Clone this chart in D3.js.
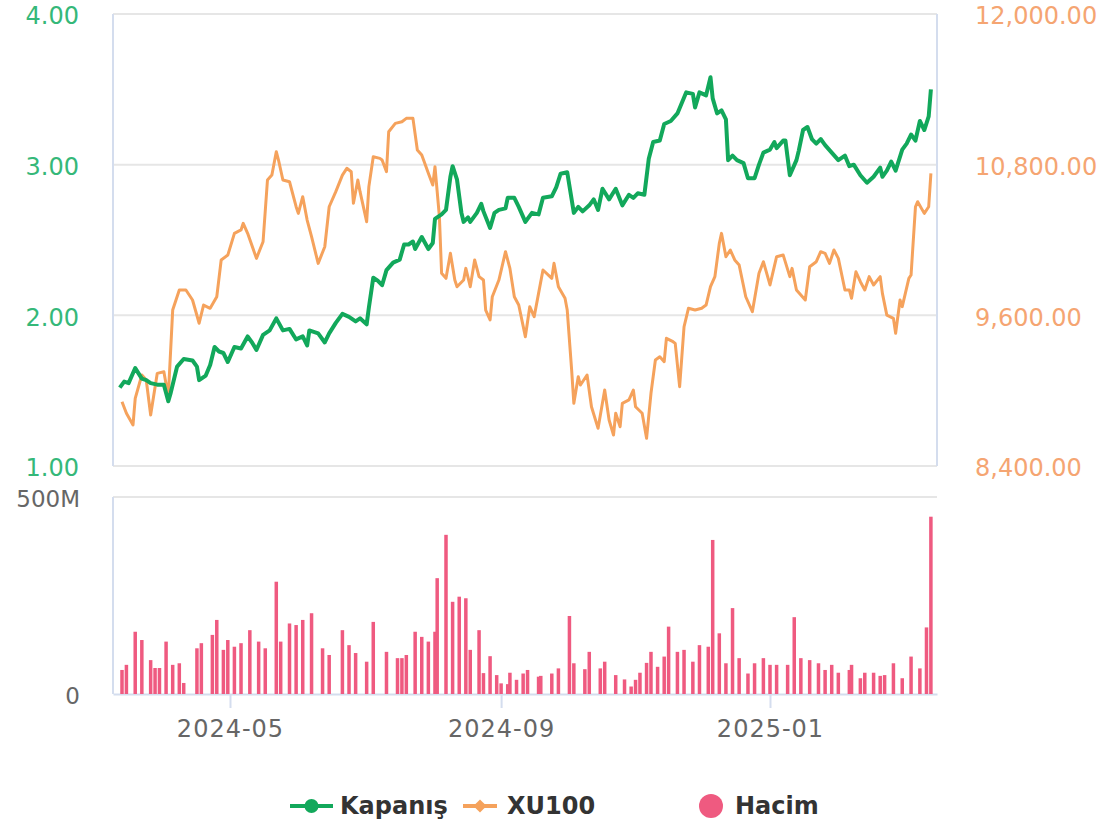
<!DOCTYPE html>
<html>
<head>
<meta charset="utf-8">
<script src="https://cdn.jsdelivr.net/npm/d3@7"></script>
<style>
  body { margin: 0; background: #fff; }
  svg { display: block; font-family: "DejaVu Sans", Verdana, sans-serif; }
</style>
</head>
<body>
<div id="chart"></div>
<script>
// Kapanış (close price)
const kapanis = [
  ["2024-03-12",1.52],["2024-03-14",1.56],["2024-03-16",1.55],["2024-03-19",1.65],["2024-03-22",1.58],
  ["2024-03-24",1.57],["2024-03-26",1.55],["2024-03-29",1.54],["2024-04-01",1.54],["2024-04-03",1.43],
  ["2024-04-04",1.48],["2024-04-07",1.66],["2024-04-10",1.71],["2024-04-14",1.70],["2024-04-16",1.66],
  ["2024-04-17",1.57],["2024-04-20",1.60],["2024-04-22",1.67],["2024-04-24",1.79],["2024-04-26",1.76],
  ["2024-04-28",1.75],["2024-04-30",1.69],["2024-05-03",1.79],["2024-05-06",1.78],["2024-05-09",1.86],
  ["2024-05-11",1.82],["2024-05-13",1.77],["2024-05-16",1.87],["2024-05-19",1.90],["2024-05-22",1.98],
  ["2024-05-25",1.90],["2024-05-28",1.91],["2024-05-31",1.84],["2024-06-03",1.86],["2024-06-05",1.80],
  ["2024-06-06",1.90],["2024-06-10",1.88],["2024-06-13",1.82],["2024-06-15",1.88],["2024-06-18",1.95],
  ["2024-06-21",2.01],["2024-06-24",1.99],["2024-06-27",1.96],["2024-06-29",1.98],["2024-07-02",1.94],
  ["2024-07-03",2.05],["2024-07-05",2.25],["2024-07-07",2.23],["2024-07-09",2.20],["2024-07-11",2.30],
  ["2024-07-14",2.35],["2024-07-17",2.37],["2024-07-19",2.47],["2024-07-21",2.47],["2024-07-23",2.49],
  ["2024-07-24",2.44],["2024-07-27",2.52],["2024-07-30",2.44],["2024-08-01",2.48],["2024-08-02",2.64],
  ["2024-08-05",2.67],["2024-08-07",2.70],["2024-08-09",2.92],["2024-08-10",2.99],["2024-08-12",2.90],
  ["2024-08-14",2.68],["2024-08-15",2.62],["2024-08-17",2.65],["2024-08-18",2.62],["2024-08-21",2.68],
  ["2024-08-23",2.74],["2024-08-24",2.69],["2024-08-27",2.58],["2024-08-29",2.68],["2024-08-31",2.70],
  ["2024-09-03",2.71],["2024-09-04",2.78],["2024-09-07",2.78],["2024-09-09",2.72],["2024-09-12",2.62],
  ["2024-09-15",2.68],["2024-09-18",2.67],["2024-09-20",2.78],["2024-09-24",2.79],["2024-09-26",2.85],
  ["2024-09-28",2.94],["2024-10-01",2.95],["2024-10-04",2.68],["2024-10-06",2.72],["2024-10-08",2.69],
  ["2024-10-11",2.73],["2024-10-13",2.77],["2024-10-15",2.70],["2024-10-17",2.84],["2024-10-20",2.77],
  ["2024-10-23",2.84],["2024-10-26",2.73],["2024-10-29",2.80],["2024-10-31",2.78],["2024-11-02",2.81],
  ["2024-11-05",2.80],["2024-11-07",3.04],["2024-11-09",3.15],["2024-11-12",3.16],["2024-11-14",3.27],
  ["2024-11-17",3.29],["2024-11-20",3.34],["2024-11-24",3.48],["2024-11-27",3.47],["2024-11-28",3.38],
  ["2024-11-30",3.48],["2024-12-03",3.46],["2024-12-05",3.58],["2024-12-06",3.44],["2024-12-08",3.34],
  ["2024-12-10",3.36],["2024-12-12",3.30],["2024-12-13",3.03],["2024-12-15",3.06],["2024-12-17",3.03],
  ["2024-12-20",3.01],["2024-12-22",2.91],["2024-12-25",2.91],["2024-12-27",3.00],["2024-12-29",3.08],
  ["2025-01-01",3.10],["2025-01-03",3.15],["2025-01-04",3.11],["2025-01-07",3.16],["2025-01-08",3.16],
  ["2025-01-10",2.93],["2025-01-13",3.03],["2025-01-14",3.09],["2025-01-16",3.23],["2025-01-18",3.25],
  ["2025-01-20",3.17],["2025-01-22",3.14],["2025-01-24",3.17],["2025-01-26",3.13],["2025-01-29",3.08],
  ["2025-02-01",3.03],["2025-02-04",3.06],["2025-02-06",2.99],["2025-02-08",3.00],["2025-02-11",2.93],
  ["2025-02-14",2.88],["2025-02-17",2.92],["2025-02-20",2.98],["2025-02-21",2.92],["2025-02-23",2.96],
  ["2025-02-25",3.02],["2025-02-27",2.96],["2025-03-02",3.10],["2025-03-04",3.14],["2025-03-06",3.20],
  ["2025-03-08",3.16],["2025-03-10",3.29],["2025-03-12",3.23],["2025-03-14",3.32],["2025-03-15",3.50]
];

// XU100 index
const xu100 = [
  ["2024-03-13",8912],["2024-03-15",8820],["2024-03-18",8727],["2024-03-19",8939],["2024-03-22",9125],
  ["2024-03-24",9085],["2024-03-26",8806],["2024-03-29",9138],["2024-04-01",9151],["2024-04-03",8952],
  ["2024-04-05",9642],["2024-04-08",9802],["2024-04-11",9802],["2024-04-14",9722],["2024-04-17",9537],
  ["2024-04-19",9682],["2024-04-22",9656],["2024-04-25",9748],["2024-04-27",10041],["2024-04-30",10080],
  ["2024-05-03",10253],["2024-05-06",10280],["2024-05-07",10333],["2024-05-09",10253],["2024-05-13",10054],
  ["2024-05-16",10186],["2024-05-18",10678],["2024-05-20",10717],["2024-05-22",10903],["2024-05-23",10837],
  ["2024-05-25",10678],["2024-05-28",10664],["2024-05-31",10465],["2024-06-01",10412],["2024-06-03",10545],
  ["2024-06-05",10359],["2024-06-07",10226],["2024-06-10",10014],["2024-06-13",10146],["2024-06-15",10465],
  ["2024-06-18",10585],["2024-06-21",10717],["2024-06-23",10771],["2024-06-25",10744],["2024-06-26",10492],
  ["2024-06-28",10678],["2024-06-29",10585],["2024-07-02",10346],["2024-07-03",10625],["2024-07-05",10863],
  ["2024-07-08",10850],["2024-07-09",10837],["2024-07-11",10744],["2024-07-12",11062],["2024-07-15",11129],
  ["2024-07-18",11142],["2024-07-20",11169],["2024-07-23",11169],["2024-07-25",10917],["2024-07-27",10877],
  ["2024-07-30",10731],["2024-08-01",10638],["2024-08-02",10784],["2024-08-04",10386],["2024-08-05",9935],
  ["2024-08-07",9895],["2024-08-09",10094],["2024-08-11",9881],["2024-08-12",9828],["2024-08-15",9881],
  ["2024-08-16",9974],["2024-08-18",9828],["2024-08-20",10041],["2024-08-22",9908],["2024-08-24",9881],
  ["2024-08-25",9642],["2024-08-27",9563],["2024-08-28",9748],["2024-08-31",9881],["2024-09-03",10107],
  ["2024-09-05",9974],["2024-09-07",9748],["2024-09-09",9682],["2024-09-12",9430],["2024-09-14",9669],
  ["2024-09-16",9589],["2024-09-18",9775],["2024-09-20",9961],["2024-09-24",9895],["2024-09-25",10014],
  ["2024-09-27",9828],["2024-09-30",9736],["2024-10-01",9642],["2024-10-03",9165],["2024-10-04",8899],
  ["2024-10-06",9111],["2024-10-07",9045],["2024-10-10",9125],["2024-10-12",8872],["2024-10-15",8700],
  ["2024-10-18",9005],["2024-10-20",8766],["2024-10-22",8647],["2024-10-23",8820],["2024-10-25",8713],
  ["2024-10-26",8899],["2024-10-29",8926],["2024-10-31",9005],["2024-11-01",8872],["2024-11-04",8820],
  ["2024-11-06",8621],["2024-11-08",8979],["2024-11-10",9244],["2024-11-12",9270],["2024-11-14",9231],
  ["2024-11-15",9417],["2024-11-18",9390],["2024-11-19",9377],["2024-11-21",9032],["2024-11-23",9509],
  ["2024-11-25",9656],["2024-11-28",9642],["2024-12-01",9656],["2024-12-03",9682],["2024-12-05",9828],
  ["2024-12-07",9908],["2024-12-09",10173],["2024-12-10",10253],["2024-12-12",10067],["2024-12-14",10120],
  ["2024-12-16",10041],["2024-12-18",10001],["2024-12-21",9748],["2024-12-24",9629],["2024-12-27",9935],
  ["2024-12-29",10027],["2025-01-01",9842],["2025-01-04",10067],["2025-01-07",10080],["2025-01-10",9908],
  ["2025-01-11",9974],["2025-01-13",9802],["2025-01-17",9722],["2025-01-19",9987],["2025-01-22",10027],
  ["2025-01-24",10107],["2025-01-26",10094],["2025-01-28",10014],["2025-01-30",10120],["2025-02-01",10054],
  ["2025-02-04",9802],["2025-02-06",9802],["2025-02-07",9736],["2025-02-09",9947],["2025-02-11",9868],
  ["2025-02-13",9802],["2025-02-15",9908],["2025-02-17",9842],["2025-02-20",9908],["2025-02-21",9775],
  ["2025-02-23",9602],["2025-02-26",9576],["2025-02-27",9457],["2025-03-01",9722],["2025-03-02",9669],
  ["2025-03-05",9895],["2025-03-06",9921],["2025-03-08",10465],["2025-03-09",10505],["2025-03-12",10412],
  ["2025-03-14",10465],["2025-03-15",10731]
];

// Hacim (volume), in millions
const hacim = [
  ["2024-03-13",61],["2024-03-15",74],["2024-03-19",158],["2024-03-22",137],["2024-03-26",86],
  ["2024-03-28",66],["2024-03-30",66],["2024-04-02",133],["2024-04-05",74],["2024-04-08",78],
  ["2024-04-10",28],["2024-04-16",116],["2024-04-18",129],["2024-04-23",150],["2024-04-25",188],
  ["2024-04-28",112],["2024-04-30",137],["2024-05-03",120],["2024-05-06",129],["2024-05-10",162],
  ["2024-05-14",133],["2024-05-17",116],["2024-05-22",285],["2024-05-24",133],["2024-05-28",179],
  ["2024-05-31",175],["2024-06-03",188],["2024-06-07",205],["2024-06-12",116],["2024-06-15",99],
  ["2024-06-21",162],["2024-06-24",124],["2024-06-27",104],["2024-07-02",82],["2024-07-05",183],
  ["2024-07-11",107],["2024-07-16",91],["2024-07-18",91],["2024-07-20",99],["2024-07-24",158],
  ["2024-07-27",145],["2024-07-30",133],["2024-08-02",158],["2024-08-03",294],["2024-08-07",404],
  ["2024-08-10",234],["2024-08-13",247],["2024-08-16",243],["2024-08-18",112],["2024-08-22",162],
  ["2024-08-24",53],["2024-08-27",96],["2024-08-30",48],["2024-09-01",27],["2024-09-04",25],
  ["2024-09-05",54],["2024-09-08",36],["2024-09-11",52],["2024-09-13",61],["2024-09-18",44],
  ["2024-09-19",46],["2024-09-24",52],["2024-09-27",65],["2024-10-02",198],["2024-10-04",78],
  ["2024-10-09",63],["2024-10-11",107],["2024-10-16",65],["2024-10-18",82],["2024-10-23",48],
  ["2024-10-27",37],["2024-10-30",19],["2024-11-01",36],["2024-11-03",54],["2024-11-06",79],
  ["2024-11-08",107],["2024-11-11",69],["2024-11-14",95],["2024-11-16",171],["2024-11-20",107],
  ["2024-11-23",112],["2024-11-27",82],["2024-11-30",124],["2024-12-04",120],["2024-12-06",391],
  ["2024-12-09",154],["2024-12-12",78],["2024-12-15",218],["2024-12-18",91],["2024-12-22",52],
  ["2024-12-25",78],["2024-12-29",91],["2025-01-01",74],["2025-01-04",74],["2025-01-09",74],
  ["2025-01-12",195],["2025-01-15",91],["2025-01-19",86],["2025-01-23",78],["2025-01-26",61],
  ["2025-01-29",74],["2025-02-01",54],["2025-02-06",61],["2025-02-07",74],["2025-02-11",40],
  ["2025-02-13",54],["2025-02-17",54],["2025-02-20",46],["2025-02-22",48],["2025-02-26",78],
  ["2025-03-02",40],["2025-03-06",95],["2025-03-10",65],["2025-03-13",169],["2025-03-15",450]
];

const leftTicks = [1, 2, 3, 4];
const rightTicks = [8400, 9600, 10800, 12000];
const volumeTicks = [0, 500e6];
const monthTicks = ["2024-05-01", "2024-09-01", "2025-01-01"];
const seriesNames = ["Kapanış", "XU100", "Hacim"];

const parse = d3.timeParse("%Y-%m-%d");
const W = 1109, H = 829;
const left = 113, right = 937;
const top1 = 14, bottom1 = 466;
const top2 = 497, bottom2 = 694;

const green = "#12a85b", orange = "#f5a25c", pink = "#ef5a80";
const gridGray = "#e6e6e6", axisBlue = "#d4ddee";

const svg = d3.select("#chart").append("svg")
  .attr("width", W).attr("height", H);

// time scale anchored on the month ticks, then stretched to the plot edges
const xBase = d3.scaleTime()
  .domain([parse("2024-05-01"), parse("2025-01-01")])
  .range([230, 770]);
const x = d3.scaleTime()
  .domain([xBase.invert(left), xBase.invert(right)])
  .range([left, right]);

const yL = d3.scaleLinear().domain([1, 4]).range([bottom1, top1]);
const yR = d3.scaleLinear().domain([8400, 12000]).range([bottom1, top1]);
const yV = d3.scaleLinear().domain([0, 500e6]).range([bottom2, top2]);

// grid lines for top panel
svg.append("g").selectAll("line")
  .data(leftTicks)
  .join("line")
    .attr("x1", left).attr("x2", right)
    .attr("y1", d => yL(d)).attr("y2", d => yL(d))
    .attr("stroke", gridGray).attr("stroke-width", 2);

// side borders of the top panel
[left, right].forEach(px => {
  svg.append("line")
    .attr("x1", px).attr("x2", px)
    .attr("y1", top1).attr("y2", bottom1)
    .attr("stroke", axisBlue).attr("stroke-width", 2);
});

// volume panel frame
svg.append("line")
  .attr("x1", left).attr("x2", right)
  .attr("y1", top2).attr("y2", top2)
  .attr("stroke", gridGray).attr("stroke-width", 2);
svg.append("line")
  .attr("x1", left).attr("x2", left)
  .attr("y1", top2).attr("y2", bottom2)
  .attr("stroke", axisBlue).attr("stroke-width", 2);

// left axis
const axL = svg.append("g")
  .attr("transform", `translate(79,2)`)
  .call(d3.axisLeft(yL).tickValues(leftTicks).tickFormat(d3.format(".2f")).tickSize(0).tickPadding(0));
axL.select(".domain").remove();
axL.selectAll("text")
  .attr("fill", "#35b879")
  .style("font-size", "24px")
  .style("font-family", "DejaVu Sans");

// right axis
const axR = svg.append("g")
  .attr("transform", `translate(975,2)`)
  .call(d3.axisRight(yR).tickValues(rightTicks).tickFormat(d3.format(",.2f")).tickSize(0).tickPadding(0));
axR.select(".domain").remove();
axR.selectAll("text")
  .attr("fill", "#f5a572")
  .style("font-size", "24px")
  .style("font-family", "DejaVu Sans");

// volume axis
const axV = svg.append("g")
  .attr("transform", `translate(80,2)`)
  .call(d3.axisLeft(yV).tickValues(volumeTicks)
    .tickFormat(d => d === 0 ? "0" : d / 1e6 + "M").tickSize(0).tickPadding(0));
axV.select(".domain").remove();
axV.selectAll("text")
  .attr("fill", "#666")
  .style("font-size", "23px")
  .style("font-family", "DejaVu Sans");

// x axis under volume panel
const axX = svg.append("g")
  .attr("transform", `translate(0,${bottom2})`)
  .call(d3.axisBottom(x).tickValues(monthTicks.map(parse))
    .tickFormat(d3.timeFormat("%Y-%m")).tickSize(14).tickSizeOuter(0).tickPadding(12));
axX.select(".domain").attr("stroke", axisBlue).attr("stroke-width", 2);
axX.selectAll(".tick line").attr("stroke", axisBlue).attr("stroke-width", 2);
axX.selectAll("text")
  .attr("fill", "#666")
  .style("font-size", "24px")
  .style("letter-spacing", "1px")
  .style("font-family", "DejaVu Sans");

// volume bars
svg.append("g").selectAll("rect")
  .data(hacim)
  .join("rect")
    .attr("x", d => x(parse(d[0])) - 1.75)
    .attr("width", 3.5)
    .attr("y", d => yV(d[1] * 1e6))
    .attr("height", d => yV(0) - yV(d[1] * 1e6))
    .attr("fill", pink);

// lines
const lineL = d3.line().x(d => x(parse(d[0]))).y(d => yL(d[1]));
const lineR = d3.line().x(d => x(parse(d[0]))).y(d => yR(d[1]));

svg.append("path")
  .datum(xu100)
  .attr("d", lineR)
  .attr("fill", "none")
  .attr("stroke", orange)
  .attr("stroke-width", 3)
  .attr("stroke-linejoin", "round");

svg.append("path")
  .datum(kapanis)
  .attr("d", lineL)
  .attr("fill", "none")
  .attr("stroke", green)
  .attr("stroke-width", 4)
  .attr("stroke-linejoin", "round");

// legend
const legend = svg.append("g").attr("transform", "translate(0,806)");
const items = [
  { name: seriesNames[0], color: green, kind: "line-circle", sx: 290, tx: 340 },
  { name: seriesNames[1], color: orange, kind: "line-diamond", sx: 463, tx: 507 },
  { name: seriesNames[2], color: pink, kind: "circle", sx: 699, tx: 735 }
];
items.forEach(it => {
  const g = legend.append("g");
  if (it.kind === "circle") {
    g.append("circle").attr("cx", it.sx + 12).attr("cy", 0).attr("r", 12).attr("fill", it.color);
  } else {
    const w = it.kind === "line-circle" ? 43 : 34;
    g.append("line").attr("x1", it.sx).attr("x2", it.sx + w)
      .attr("y1", 0).attr("y2", 0)
      .attr("stroke", it.color).attr("stroke-width", 4);
    if (it.kind === "line-circle") {
      g.append("circle").attr("cx", it.sx + w / 2).attr("cy", 0).attr("r", 7).attr("fill", it.color);
    } else {
      g.append("path").attr("d", d3.symbol(d3.symbolDiamond2, 110)())
        .attr("transform", `translate(${it.sx + w / 2},0)`)
        .attr("fill", it.color);
    }
  }
  g.append("text")
    .attr("x", it.tx).attr("y", 0)
    .attr("dy", "0.35em")
    .attr("fill", "#333")
    .style("font-size", "24px")
    .style("font-weight", "bold")
    .style("font-family", "DejaVu Sans")
    .text(it.name);
});
</script>
</body>
</html>
